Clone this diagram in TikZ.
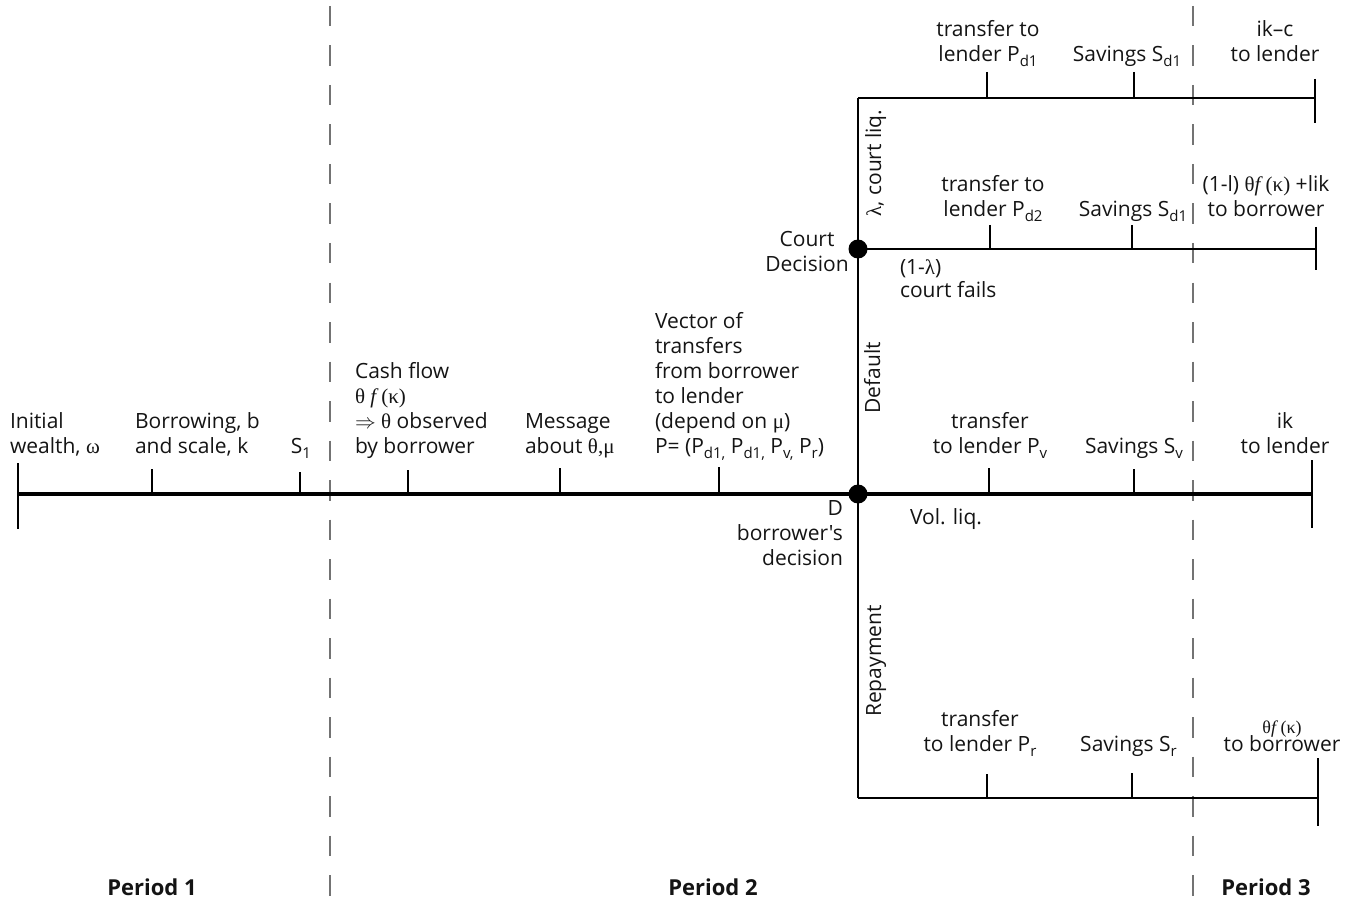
\documentclass[tikz,border=0pt]{standalone}
\usepackage{fontspec}
\setmainfont{Open Sans}[Ligatures=TeXOff]
\newfontfamily\gk{Liberation Serif}
\newcommand\subx[1]{\raisebox{-5pt}{\fontsize{15}{15}\selectfont #1}}
\newcommand\gr[1]{{\gk #1}}
\begin{document}
\begin{tikzpicture}[x=1pt,y=-1pt,
  every node/.style={inner sep=0pt,outer sep=0pt,font=\fontsize{21}{25}\selectfont,text=black!92},
  lab/.style={align=left},
  labc/.style={align=center},
  labr/.style={align=right},
  vlab/.style={rotate=90,anchor=base},
  period/.style={font=\fontsize{22}{26}\selectfont\bfseries,anchor=base},
  mainln/.style={line width=3.2pt},
  branch/.style={line width=1.6pt},
  tick/.style={line width=1.7pt},
  periodsep/.style={draw=black!55,line width=2pt,dash pattern=on 20.5pt off 19pt},
  dot/.style={circle,fill=black,minimum size=19pt,inner sep=0pt},
]
\useasboundingbox (0,0) rectangle (1363,904);
% period separators
\draw[periodsep] (330,6) -- (330,896);
\draw[periodsep] (1193,6) -- (1193,896);
% main time line
\coordinate (m0) at (18,494);
\coordinate (m1) at (1312,494);
\draw[mainln] (m0) -- (m1);
\draw[tick] (18,463) -- (18,529);
\draw[tick] (1312,460) -- (1312,528);
\foreach \x/\t in {152/469,300/472,408/470,560/468,719/467,989/468,1134/469}
  \draw[tick] (\x,\t) -- (\x,494);
% vertical decision line
\coordinate (vt) at (858,98);
\coordinate (vb) at (858,798);
\coordinate (cd) at (858,249);
\draw[branch] (vt) -- (vb);
% court liquidation branch
\coordinate (t1) at (1315,98);
\draw[branch] (vt) -- (t1);
\draw[tick] (987,72) -- (987,98);
\draw[tick] (1134,72) -- (1134,98);
\draw[tick] (1315,79) -- (1315,123);
% court fails branch
\coordinate (c1) at (1316,249);
\draw[branch] (cd) -- (c1);
\draw[tick] (990,225) -- (990,249);
\draw[tick] (1132,225) -- (1132,249);
\draw[tick] (1316,227) -- (1316,270);
% repayment branch
\coordinate (b1) at (1318,798);
\draw[branch] (vb) -- (b1);
\draw[tick] (987,774) -- (987,798);
\draw[tick] (1132,773) -- (1132,798);
\draw[tick] (1318,758) -- (1318,826);
% decision dots
\node[dot] (D) at (858,494) {};
\node[dot] (C) at (858,249) {};
% period 1 and 2 labels
\node[lab,anchor=south west] (init) at (10,460.5) {\strut Initial\\\strut wealth, \gr{ω}};
\node[lab,anchor=south west] (borrow) at (135,460.5) {\strut Borrowing, b\\\strut and scale, k};
\node[anchor=south] (s1) at (301,460.5) {\strut S\subx{1}};
\node[lab,anchor=south west] (cash) at (355,460.5) {\strut Cash flow\\\strut {\gk θ {\itshape f} (κ)}\\\strut $\Rightarrow$ \gr{θ} observed\\\strut by borrower};
\node[lab,anchor=south west] (msg) at (525,460.5) {\strut Message\\\strut about \gr{θ,μ}};
\node[lab,anchor=south west] (vec) at (655,460.5) {\strut Vector of\\\strut transfers\\\strut from borrower\\\strut to lender\\\strut (depend on \gr{μ})\\\strut P= (P\subx{d1,} P\subx{d1,} P\subx{v,} P\subx{r})};
\node[labr,anchor=south east] (dlab) at (843,572.5) {\strut D\\\strut borrower's\\\strut decision};
% vertical labels
\node[vlab] (courtliq) at (881,163) {\gr{λ}, court liq.};
\node[vlab] (default) at (880,378) {Default};
\node[vlab] (repay) at (881,661) {Repayment};
% court branch labels
\node[labc,anchor=south] (court) at (807,279.5) {\strut Court\\\strut Decision};
\node[lab,anchor=south west] (fails) at (900,304.5) {\strut (1-\gr{λ})\\[-3pt]\strut court fails};
\node[labc,anchor=south] (tpd1) at (988,69.5) {\strut transfer to\\\strut lender P\subx{d1}};
\node[anchor=south] (sd1a) at (1127,69.5) {\strut Savings S\subx{d1}};
\node[labc,anchor=south] (ikc) at (1275,69.5) {\strut ik–c\\\strut to lender};
\node[labc,anchor=south] (tpd2) at (993,224.5) {\strut transfer to\\\strut lender P\subx{d2}};
\node[anchor=south] (sd1b) at (1133,224.5) {\strut Savings S\subx{d1}};
\node[labc,anchor=south] (lik) at (1266,224.5) {\strut (1-l) {\gk θ{\itshape f} (κ)} +lik\\\strut to borrower};
% voluntary liquidation labels
\node[lab,anchor=south west] (vol) at (910,531.5) {\strut Vol. liq.};
\node[labc,anchor=south] (tpv) at (990,460.5) {\strut transfer\\\strut to lender P\subx{v}};
\node[anchor=south] (sv) at (1134,460.5) {\strut Savings S\subx{v}};
\node[labc,anchor=south] (ik) at (1285,460.5) {\strut ik\\\strut to lender};
% repayment labels
\node[labc,anchor=south] (tpr) at (980,758.5) {\strut transfer\\\strut to lender P\subx{r}};
\node[anchor=south] (sr) at (1128.5,758.5) {\strut Savings S\subx{r}};
\node[labc,anchor=south] (thf) at (1282,758.5) {{\fontsize{18}{18}\selectfont\gk θ{\itshape f} (κ)}\\[-7pt]\strut to borrower};
% periods
\node[period] (p1) at (152,895) {Period 1};
\node[period] (p2) at (713,895) {Period 2};
\node[period] (p3) at (1266,895) {Period 3};
\end{tikzpicture}
\end{document}
